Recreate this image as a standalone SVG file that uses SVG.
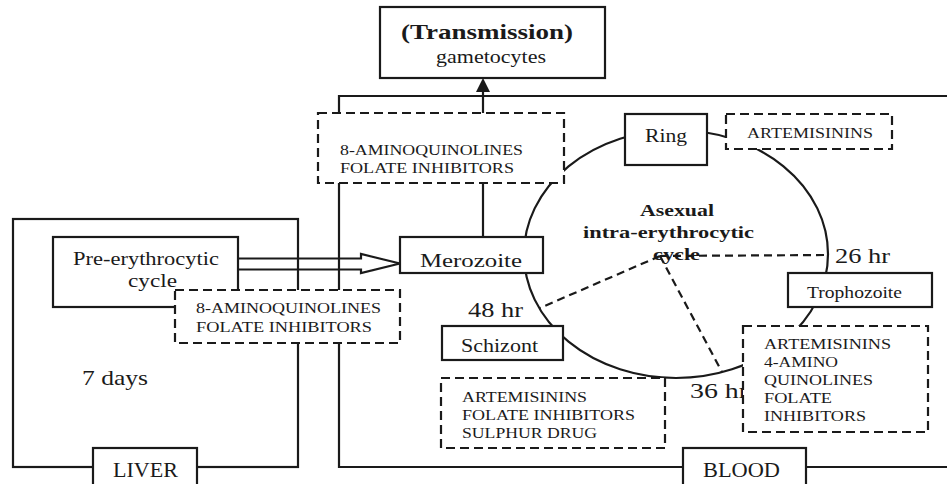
<svg xmlns="http://www.w3.org/2000/svg" width="947" height="484" viewBox="0 0 947 484">
  <defs>
    <style>
      text { font-family: "Liberation Serif", "Times New Roman", serif; fill: #1a1a1a; }
      .box { fill: #fff; stroke: #1a1a1a; stroke-width: 2.2; }
      .dbox { fill: #fff; stroke: #1a1a1a; stroke-width: 2.2; stroke-dasharray: 9 5; }
      .frame { fill: none; stroke: #1a1a1a; stroke-width: 2.2; }
      .line { fill: none; stroke: #1a1a1a; stroke-width: 2.2; }
      .dash { fill: none; stroke: #1a1a1a; stroke-width: 2.2; stroke-dasharray: 8 5; }
      .drug { font-size: 15px; }
      .stage { font-size: 18px; }
      .hr { font-size: 22px; }
      .bold { font-weight: bold; }
    </style>
  </defs>

  <!-- region frames -->
  <g id="liver-frame">
    <rect class="frame" x="13" y="219" width="285" height="248"/>
  </g>
  <g id="blood-frame">
    <path class="frame" d="M947,96 H339 V467 H947"/>
  </g>

  <!-- connectors -->
  <g id="connectors">
    <!-- asexual cycle -->
    <ellipse class="line" cx="676" cy="254" rx="152" ry="124"/>
    <!-- time radii -->
    <path class="dash" d="M660,256 L828,255"/>
    <path class="dash" d="M660,256 L540,308"/>
    <path class="dash" d="M660,256 L722,372"/>
    <!-- merozoite up to transmission -->
    <path class="line" d="M483,237 V90"/>
    <path d="M483,78 L476,92 L490,92 Z" fill="#1a1a1a"/>
    <!-- liver to blood hollow arrow -->
    <path class="line" d="M238,258.5 H361 V254 L400,263.5 L361,273 V269.5 H238"/>
  </g>

  <!-- free labels -->
  <g id="labels">
    <text class="hr" x="82" y="385" textLength="66" lengthAdjust="spacingAndGlyphs">7 days</text>
    <text class="hr" x="835" y="263" textLength="55" lengthAdjust="spacingAndGlyphs">26 hr</text>
    <text class="hr" x="468" y="317" textLength="55" lengthAdjust="spacingAndGlyphs">48 hr</text>
    <text class="hr" x="690" y="398" textLength="58" lengthAdjust="spacingAndGlyphs">36 hr</text>
    <g id="cycle-title" class="bold" font-size="17.5">
      <text x="640" y="216" textLength="74" lengthAdjust="spacingAndGlyphs">Asexual</text>
      <text x="583" y="238" textLength="171" lengthAdjust="spacingAndGlyphs">intra-erythrocytic</text>
      <text x="653" y="260" textLength="47" lengthAdjust="spacingAndGlyphs">cycle</text>
    </g>
  </g>

  <!-- nodes -->
  <g id="transmission">
    <rect class="box" x="380" y="7" width="225" height="71"/>
    <text class="bold" font-size="22" x="401" y="39" textLength="172" lengthAdjust="spacingAndGlyphs">(Transmission)</text>
    <text font-size="19" x="436" y="63" textLength="110" lengthAdjust="spacingAndGlyphs">gametocytes</text>
  </g>

  <g id="drugs-merozoite">
    <rect class="dbox" x="318" y="113" width="246" height="70"/>
    <text class="drug" x="340" y="155" textLength="183" lengthAdjust="spacingAndGlyphs">8-AMINOQUINOLINES</text>
    <text class="drug" x="340" y="173" textLength="174" lengthAdjust="spacingAndGlyphs">FOLATE INHIBITORS</text>
  </g>

  <g id="ring">
    <rect class="box" x="625" y="114" width="82" height="51"/>
    <text class="stage" x="645" y="142" textLength="42" lengthAdjust="spacingAndGlyphs">Ring</text>
  </g>

  <g id="drugs-ring">
    <rect class="dbox" x="726" y="114" width="166" height="35"/>
    <text class="drug" x="747" y="138" textLength="126" lengthAdjust="spacingAndGlyphs">ARTEMISININS</text>
  </g>

  <g id="merozoite">
    <rect class="box" x="400" y="237" width="143" height="36"/>
    <text font-size="19" x="420" y="267" textLength="102" lengthAdjust="spacingAndGlyphs">Merozoite</text>
  </g>

  <g id="trophozoite">
    <rect class="box" x="788" y="273" width="144" height="34"/>
    <text font-size="16.5" x="807" y="298" textLength="95" lengthAdjust="spacingAndGlyphs">Trophozoite</text>
  </g>

  <g id="schizont">
    <rect class="box" x="442" y="326" width="121" height="34"/>
    <text class="stage" x="461" y="352" textLength="77" lengthAdjust="spacingAndGlyphs">Schizont</text>
  </g>

  <g id="drugs-trophozoite">
    <rect class="dbox" x="743" y="326" width="185" height="106"/>
    <text class="drug" x="764" y="349" textLength="127" lengthAdjust="spacingAndGlyphs">ARTEMISININS</text>
    <text class="drug" x="764" y="367" textLength="74" lengthAdjust="spacingAndGlyphs">4-AMINO</text>
    <text class="drug" x="764" y="385" textLength="109" lengthAdjust="spacingAndGlyphs">QUINOLINES</text>
    <text class="drug" x="764" y="403" textLength="68" lengthAdjust="spacingAndGlyphs">FOLATE</text>
    <text class="drug" x="764" y="421" textLength="102" lengthAdjust="spacingAndGlyphs">INHIBITORS</text>
  </g>

  <g id="drugs-schizont">
    <rect class="dbox" x="441" y="378" width="224" height="70"/>
    <text class="drug" x="462" y="402" textLength="125" lengthAdjust="spacingAndGlyphs">ARTEMISININS</text>
    <text class="drug" x="462" y="420" textLength="173" lengthAdjust="spacingAndGlyphs">FOLATE INHIBITORS</text>
    <text class="drug" x="462" y="438" textLength="135" lengthAdjust="spacingAndGlyphs">SULPHUR DRUG</text>
  </g>

  <g id="pre-erythrocytic">
    <rect class="box" x="53" y="237" width="185" height="70"/>
    <text font-size="19" x="73" y="265" textLength="146" lengthAdjust="spacingAndGlyphs">Pre-erythrocytic</text>
    <text font-size="19" x="128" y="287" textLength="49" lengthAdjust="spacingAndGlyphs">cycle</text>
  </g>

  <g id="drugs-liver">
    <rect class="dbox" x="175" y="290" width="225" height="53"/>
    <text class="drug" x="196" y="313" textLength="185" lengthAdjust="spacingAndGlyphs">8-AMINOQUINOLINES</text>
    <text class="drug" x="196" y="332" textLength="176" lengthAdjust="spacingAndGlyphs">FOLATE INHIBITORS</text>
  </g>

  <g id="liver">
    <rect class="box" x="93" y="448" width="104" height="45"/>
    <text font-size="20" x="113" y="477" textLength="65" lengthAdjust="spacingAndGlyphs">LIVER</text>
  </g>

  <g id="blood">
    <rect class="box" x="683" y="448" width="123" height="45"/>
    <text font-size="20" x="703" y="477" textLength="77" lengthAdjust="spacingAndGlyphs">BLOOD</text>
  </g>
</svg>
